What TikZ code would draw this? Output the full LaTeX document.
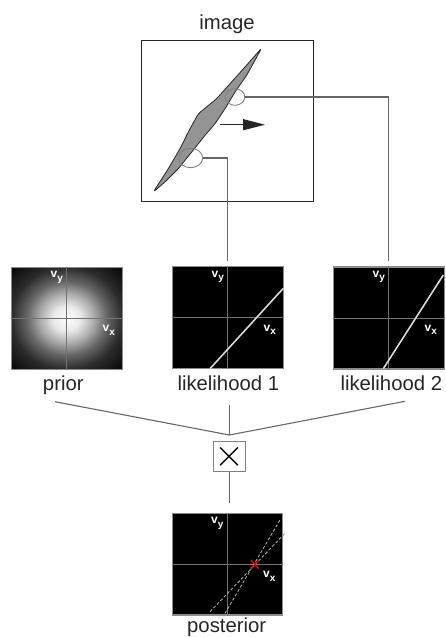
\documentclass[tikz,border=0pt]{standalone}
\usepackage{fontspec}
\usepackage{graphicx}
\setmainfont{Liberation Sans}
\usetikzlibrary{positioning, arrows.meta, shapes.geometric, calc}

\pgfdeclareradialshading{priorglow}{\pgfpoint{0bp}{0bp}}{color(0bp)=(white); color(6bp)=(white!92!black); color(12bp)=(black!32); color(18bp)=(black!60); color(25bp)=(black!83); color(35bp)=(black!97); color(50bp)=(black)}
\newcommand{\vsub}[1]{v\raisebox{-3.5pt}{\fontsize{10}{10}\selectfont #1}}

\begin{document}
\begin{tikzpicture}[
    x=1pt, y=-1pt,
    panel/.style={rectangle, draw=black!45, line width=1.2pt, fill=black, minimum width=111pt, minimum height=102pt, inner sep=0pt},
    imgframe/.style={rectangle, draw=black!85, line width=1.2pt, minimum width=172pt, minimum height=161pt, inner sep=0pt},
    caption/.style={font=\fontsize{20.3}{24}\selectfont, inner sep=0pt, anchor=base, text=black!85},
    axis/.style={draw=black!55, line width=0.9pt},
    vlab/.style={text=white, font=\fontsize{12}{12}\selectfont\bfseries, inner sep=0pt},
    ridge/.style={draw=black!15, line width=1.6pt},
    postridge/.style={draw=black!35, line width=0.9pt, dash pattern=on 3pt off 2pt},
    wire/.style={draw=black!60, line width=1.1pt},
    probe/.style={ellipse, draw=black!50, line width=0.9pt, inner sep=0pt},
    blob/.style={draw=black!85, fill=black!42, line width=0.8pt, line join=round, rounded corners=3pt},
    motionarrow/.style={-{Triangle[length=22pt, width=11pt]}, draw=black!85, line width=1.3pt},
    multbox/.style={rectangle, draw=black!50, line width=1.1pt, minimum width=31.7pt, minimum height=30pt, inner sep=0pt}
]
    \useasboundingbox (0,0) rectangle (446,637);

    % observed image
    \node[caption] (imagelab) at (227,29) {image};
    \node[imgframe] (image) at (227.8,121.2) {};
    \draw[blob] (153.3,192) -- (168.3,168.7) -- (180,148.7) -- (188.3,132) -- (198.3,113.7) -- (216.7,98.7)
        -- (230,83.7) -- (245,67) -- (261.7,48) -- (246.7,75.3) -- (235,92) -- (225,108.7) -- (215,123.7)
        -- (205,135.3) -- (191.7,152) -- (178.3,168.7) -- (165,182) -- cycle;
    \node[probe, minimum width=19.5pt, minimum height=16.6pt] (probe2) at (235,97) {};
    \node[probe, minimum width=24pt, minimum height=19.4pt] (probe1) at (190.7,158) {};
    \coordinate (motion) at (220,124.7);
    \draw[motionarrow] (motion) -- ++(45,0);

    % prior and likelihoods
    \node[panel, shading=priorglow] (prior) at (66.7,318.3) {};
    \node[panel] (lik1) at (227.8,317.7) {};
    \node[panel] (lik2) at (388.8,318) {};
    \node[panel, minimum width=110pt, minimum height=101.7pt] (post) at (227.3,564.2) {};

    \foreach \p in {prior, lik1, lik2, post} {
        \draw[axis] (\p.north) -- (\p.south);
        \draw[axis] (\p.west) -- (\p.east);
        \node[vlab] (vy-\p) at ($(\p.center)+(-10,-41)$) {\vsub{y}};
        \node[vlab] (vx-\p) at ($(\p.center)+(42,12)$) {\vsub{x}};
    }

    \draw[ridge] (210,368.7) -- (283.3,288.3);
    \draw[ridge] (383.3,368.7) -- (443.3,275);
    \draw[postridge] (210,611.7) -- (285,533.3);
    \draw[postridge] (225,613.3) -- (280,520);
    \coordinate (map) at (255,564.3);
    \draw[red, line width=1.2pt] ($(map)+(-4,-4.5)$) -- ($(map)+(4,4.5)$) ($(map)+(-4,4.5)$) -- ($(map)+(4,-4.5)$);

    \node[caption] (priorlab) at (63.3,390.5) {prior};
    \node[caption] (lik1lab) at (228.3,390.5) {likelihood 1};
    \node[caption] (lik2lab) at (391.3,390.5) {likelihood 2};
    \node[caption] (postlab) at (226.7,632) {posterior};

    % combination
    \node[multbox] (times) at (229.2,456.7) {\scalebox{1.55}{\fontsize{24.88}{25}\selectfont$\times$}};
    \coordinate (join) at (229.3,435);
    \coordinate (priorwire) at (55,401.7);
    \coordinate (lik1wire) at (229.3,405);
    \coordinate (lik2wire) at (405,401.3);

    \draw[wire, shorten >=5pt] (probe2.east) -| (lik2.north);
    \draw[wire, shorten >=5pt] (probe1.east) -| (lik1.north);
    \draw[wire] (priorwire) -- (join) -- (lik2wire);
    \draw[wire] (lik1wire) -- (join);
    \draw[wire, shorten >=9.4pt] (times.south) -- (times.south |- post.north);
\end{tikzpicture}
\end{document}
